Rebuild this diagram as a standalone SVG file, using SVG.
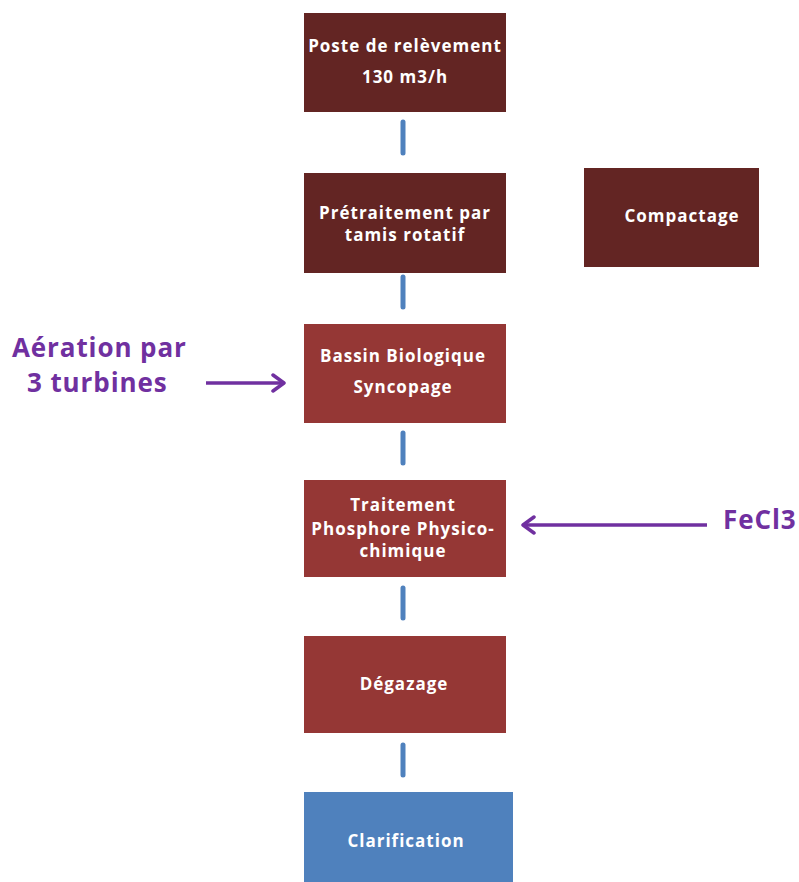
<svg xmlns="http://www.w3.org/2000/svg" width="799" height="882" viewBox="0 0 799 882">
<style>
.dark{fill:#632523;}
.med{fill:#953735;}
.blue{fill:#4f81bd;}
.t{font-family:"Open Sans","Liberation Sans",sans-serif;font-weight:700;font-size:17px;letter-spacing:1px;fill:#ffffff;text-anchor:middle;}
.p{font-family:"Open Sans","Liberation Sans",sans-serif;font-weight:700;font-size:26px;letter-spacing:0.9px;fill:#7030a0;}
.c{stroke:#4f81bd;stroke-width:5;stroke-linecap:round;fill:none;}
.a{stroke:#7030a0;stroke-width:3.5;fill:none;}
</style>
<defs>
<marker id="ah" viewBox="0 0 20 20" refX="15" refY="10" markerWidth="20" markerHeight="20" markerUnits="userSpaceOnUse" orient="auto">
<path d="M4,2 L15,10 L4,18" fill="none" stroke="#7030a0" stroke-width="3.5" stroke-linecap="round" stroke-linejoin="round"/>
</marker>
</defs>
<rect width="799" height="882" fill="#ffffff"/>
<g id="connectors">
<line class="c" x1="403" y1="122" x2="403" y2="153"/>
<line class="c" x1="403" y1="277" x2="403" y2="307"/>
<line class="c" x1="403" y1="433" x2="403" y2="463"/>
<line class="c" x1="403" y1="588" x2="403" y2="618"/>
<line class="c" x1="403" y1="745" x2="403" y2="775"/>
<line class="a" x1="206" y1="383" x2="284" y2="383" marker-end="url(#ah)"/>
<line class="a" x1="707" y1="525" x2="523" y2="525" marker-end="url(#ah)"/>
</g>
<g id="n1"><rect class="dark" x="304" y="13" width="202" height="99"/>
<text class="t" x="405" y="52">Poste de relèvement</text>
<text class="t" x="405" y="83">130 m3/h</text></g>
<g id="n2"><rect class="dark" x="304" y="173" width="202" height="100"/>
<text class="t" x="405" y="219">Prétraitement par</text>
<text class="t" x="405" y="241">tamis rotatif</text></g>
<g id="n3"><rect class="dark" x="584" y="168" width="175" height="99"/>
<text class="t" x="682" y="222">Compactage</text></g>
<g id="n4"><rect class="med" x="304" y="324" width="202" height="99"/>
<text class="t" x="403" y="362">Bassin Biologique</text>
<text class="t" x="403" y="393">Syncopage</text></g>
<g id="n5"><rect class="med" x="304" y="480" width="202" height="97"/>
<text class="t" x="403" y="511">Traitement</text>
<text class="t" x="403" y="535">Phosphore Physico-</text>
<text class="t" x="403" y="557">chimique</text></g>
<g id="n6"><rect class="med" x="304" y="636" width="202" height="97"/>
<text class="t" x="404" y="690">Dégazage</text></g>
<g id="n7"><rect class="blue" x="304" y="792" width="209" height="90"/>
<text class="t" x="406" y="847">Clarification</text></g>
<g id="labels">
<text class="p" x="12" y="357">Aération par</text>
<text class="p" x="27" y="392">3 turbines</text>
<text class="p" x="723" y="529">FeCl3</text>
</g>
</svg>
